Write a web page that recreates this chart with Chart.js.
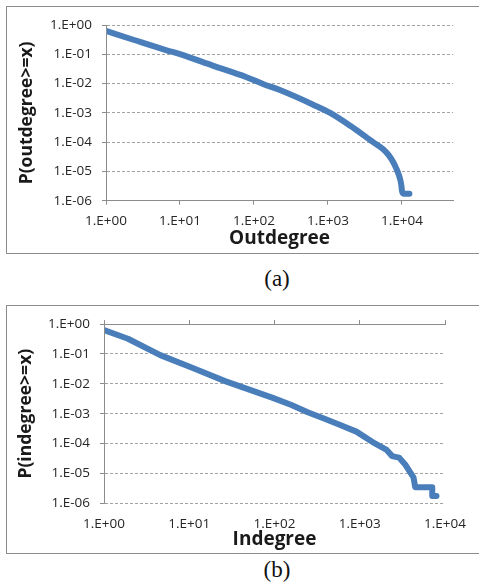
<!DOCTYPE html>
<html>
<head>
<meta charset="utf-8">
<script src="https://cdn.jsdelivr.net/npm/chart.js@4.4.1/dist/chart.umd.min.js"></script>
<style>
  html, body { margin: 0; padding: 0; background: #fff; width: 479px; height: 587px; overflow: hidden; }
  .box { position: absolute; left: 6px; width: 480px; border: 1px solid #8c8c8c; }
  .box canvas { position: absolute; left: 0; top: 0; }
  .cap { position: absolute; width: 80px; text-align: center; font-family: "Liberation Serif", "DejaVu Serif", serif; font-size: 23px; color: #111; line-height: 26px; }
</style>
</head>
<body>
<div class="box" style="top:6px;height:246px;"><canvas id="cA" width="472" height="246"></canvas></div>
<div class="cap" style="left:237px;top:266px;">(a)</div>
<div class="box" style="top:305px;height:247px;"><canvas id="cB" width="472" height="247"></canvas></div>
<div class="cap" style="left:237px;top:557px;">(b)</div>
<script>
// ---- data ----
const outdegreeX = [1, 2.34, 6.61, 10, 28.2, 79.4, 135, 224, 631, 1070, 2000, 4070, 5620, 6610, 7590, 8510, 9330, 9770, 10000, 10470, 12590];
const outdegreeP = [0.63, 0.316, 0.138, 0.102, 0.0407, 0.0166, 0.00955, 0.00603, 0.00191, 0.001, 0.000363, 0.0001, 5.6e-5, 3.6e-5, 2.1e-5, 1.15e-5, 6.03e-6, 3.55e-6, 2.14e-6, 1.74e-6, 1.74e-6];

const indegreeX = [1, 1.91, 4.57, 11, 26.3, 95.5, 158, 245, 380, 589, 912, 1413, 2042, 2399, 2884, 3388, 3890, 4266, 4467, 7079, 7079, 7943];
const indegreeP = [0.63, 0.324, 0.0912, 0.0339, 0.0123, 0.00339, 0.00195, 0.00112, 0.000692, 0.000417, 0.000251, 0.000112, 6.3e-5, 3.8e-5, 3.39e-5, 2.04e-5, 1.1e-5, 7.4e-6, 3.47e-6, 3.47e-6, 1.74e-6, 1.74e-6];

const xTickValues = [1, 10, 100, 1000, 10000];
const yTickValues = [1e-6, 1e-5, 1e-4, 1e-3, 1e-2, 1e-1, 1];

const titleA = { x: 'Outdegree', y: 'P(outdegree>=x)' };
const titleB = { x: 'Indegree', y: 'P(indegree>=x)' };

// ---- helpers ----
function sci(v) {
  const e = Math.round(Math.log10(v));
  return '1.E' + (e < 0 ? '-' : '+') + String(Math.abs(e)).padStart(2, '0');
}
function toPoints(xs, ys) { return xs.map((x, i) => ({ x: x, y: ys[i] })); }
function setTicks(vals) { return s => { s.ticks = vals.filter(v => v >= s.min && v <= s.max).map(v => ({ value: v })); }; }

const AXIS = '#8c8c8c';
const GRID = '#a3a3a3';
const LBL = '#262626';
const tickFont = { family: '"Open Sans", "Liberation Sans", sans-serif', size: 13.5 };
const titleFont = { family: '"Open Sans", "Liberation Sans", sans-serif', size: 17.5, weight: 'bold' };
const xTitleFont = { family: '"Open Sans", "Liberation Sans", sans-serif', size: 19, weight: 'bold' };

function makeChart(id, xs, ys, titles, cfg) {
  const scales = {
    x: {
      type: 'logarithmic', position: 'bottom', min: 1, max: cfg.xMax,
      afterBuildTicks: setTicks(xTickValues),
      afterFit: s => { s.height = cfg.xHeight; },
      ticks: { callback: v => sci(v), font: tickFont, color: LBL, padding: cfg.xTickPad, maxRotation: 0, autoSkip: false },
      grid: { display: cfg.xGrid, drawOnChartArea: false, drawTicks: cfg.xGrid, tickLength: 4, color: AXIS, tickColor: AXIS },
      border: { display: cfg.xBorder, color: AXIS, z: 1 },
      title: { display: true, text: titles.x, font: xTitleFont, color: '#1a1a1a', padding: { top: 0, bottom: cfg.xTitlePad } }
    },
    y: {
      type: 'logarithmic', position: 'left', min: 1e-6, max: 1,
      afterBuildTicks: setTicks(yTickValues),
      afterFit: s => { s.width = cfg.yWidth; },
      ticks: { callback: v => sci(v), font: tickFont, color: LBL, padding: 10, autoSkip: false },
      grid: { color: GRID, tickLength: 4, tickColor: AXIS, tickBorderDash: [] },
      border: { display: true, color: AXIS, dash: [3, 2], z: 1 },
      title: { display: true, text: titles.y, font: titleFont, color: '#1a1a1a', padding: { top: cfg.yTitlePad, bottom: 0 } }
    }
  };
  if (cfg.topAxis) {
    scales.x2 = {
      type: 'logarithmic', position: 'top', min: 1, max: cfg.xMax,
      afterBuildTicks: setTicks(xTickValues),
      afterFit: s => { s.height = 4; },
      ticks: { display: false },
      grid: { drawOnChartArea: false, tickLength: 4, color: AXIS, tickColor: AXIS },
      border: { display: true, color: AXIS, z: 1 }
    };
  }
  return new Chart(document.getElementById(id), {
    type: 'scatter',
    data: {
      datasets: [{
        data: toPoints(xs, ys),
        showLine: true,
        borderColor: '#4a7ebb',
        backgroundColor: '#4a7ebb',
        borderWidth: 6,
        borderCapStyle: 'round',
        borderJoinStyle: 'round',
        pointRadius: 0,
        cubicInterpolationMode: cfg.smooth ? 'monotone' : 'default',
        tension: 0
      }]
    },
    options: {
      responsive: false,
      animation: false,
      layout: { padding: cfg.padding },
      plugins: { legend: { display: false }, tooltip: { enabled: false } },
      scales: scales
    }
  });
}

makeChart('cA', outdegreeX, outdegreeP, titleA, {
  xMax: 48900, xHeight: 52.3, yWidth: 99, xTickPad: 8.5, xTitlePad: 2.6, yTitlePad: 9.4,
  xGrid: true, xBorder: true, topAxis: false, smooth: true,
  padding: { left: 0, right: 26, top: 13, bottom: 0 }
});
makeChart('cB', indegreeX, indegreeP, titleB, {
  xMax: 10000, xHeight: 49.7, yWidth: 97, xTickPad: 13, xTitlePad: 1.6, yTitlePad: 8.4,
  xGrid: false, xBorder: false, topAxis: true, smooth: false,
  padding: { left: 0, right: 25, top: 10, bottom: 0 }
});
</script>
</body>
</html>
